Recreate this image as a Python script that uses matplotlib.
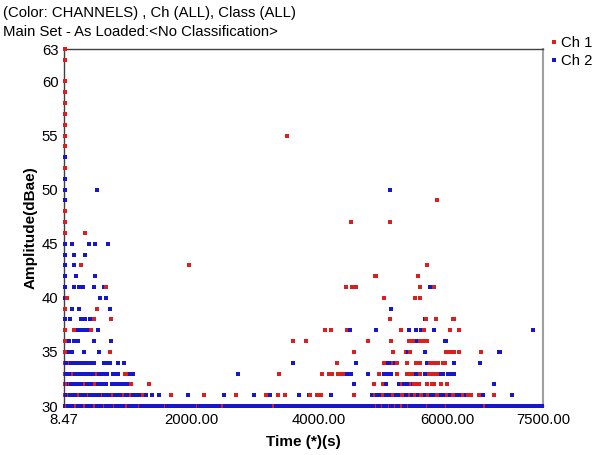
import numpy as np
import matplotlib.pyplot as plt
from matplotlib.lines import Line2D

plt.rcParams['font.family'] = ['Liberation Sans', 'DejaVu Sans']

title_lines = ["(Color: CHANNELS) , Ch (ALL), Class (ALL)",
               "Main Set - As Loaded:<No Classification>"]
channel_names = ["Ch 1", "Ch 2"]
channel_colors = ["#dc1e1e", "#1616cc"]
x_ticks = [8.47, 2000, 4000, 6000, 7500]
x_tick_labels = ["8.47", "2000.00", "4000.00", "6000.00", "7500.00"]
y_ticks = [30, 35, 40, 45, 50, 55, 60, 63]

# Ch 1 hits: amplitude level (dB) -> hit times (s)
ch1_levels = [63, 62, 60, 59, 58, 57, 56, 55, 54, 52, 49, 48, 47, 46, 43, 42, 41, 40,
              39, 38, 37, 36, 35, 34, 33, 32, 31, 30]
ch1_times = [
    [20], [20], [20], [20], [20], [20], [20], [20, 3490], [20], [20],
    [5845], [20], [20, 4490, 5100], [20, 330],
    [275, 1960, 5690],
    [4880, 5540],
    [670, 4420, 4520, 4580, 5570, 5790],
    [50, 5020, 5505, 5580],
    [20, 530],
    [485, 745, 5100, 5670, 5820, 6100],
    [30, 170, 430, 4090, 4180, 4440, 5280, 5640, 6040, 6190],
    [20, 3590, 3800, 4760, 5125, 5410, 5460, 5580, 5630, 5690],
    [20, 730, 4550, 5150, 5360, 5420, 5990, 6040, 6100, 6190, 6530],
    [20, 110, 4285, 5020, 5160, 5220, 5370, 5520, 5570, 5740, 5790, 5850, 5930, 5960],
    [20, 150, 520, 970, 3370, 4040, 4160, 4200, 4290, 4340, 4400, 4940, 5220, 5380,
     5430, 5460, 5580, 5720, 5780, 5850],
    [20, 60, 110, 330, 500, 1060, 1345, 4860, 4994, 5300, 5430, 5490, 5560, 5680,
     5760, 5800, 5907, 6006],
    [20, 80, 250, 400, 620, 780, 950, 1050, 1250, 1689, 2205, 2698, 3167, 3355, 3472,
     3863, 3973, 4030, 4551, 4870, 5000, 5150, 5300, 5420, 5500, 5600, 5700, 5850,
     6000, 6100, 6250, 6320, 6380, 6506, 6741],
    [50, 200, 330, 500, 650, 800, 1000, 1200, 1600, 2100, 2500, 3300, 4900, 5000,
     5100, 5200, 5300, 5400, 5700, 6000, 6600],
]

# Ch 2 hits: amplitude level (dB) -> hit times (s)
ch2_levels = [53, 51, 50, 49, 45, 44, 43, 42, 41, 40, 39, 38, 37, 36, 35, 34, 33, 32, 31, 30]
ch2_times = [
    [20], [20], [20, 530, 5100], [20],
    [20, 135, 400, 500, 690],
    [20, 170, 330],
    [20, 170],
    [20, 200, 500],
    [20, 170, 250, 300, 485, 640, 5735],
    [20, 565, 670],
    [140, 250, 735, 5125],
    [20, 95, 275, 330, 410, 5650],
    [235, 280, 330, 370, 400, 545, 4475, 4890, 5410, 5520, 5600, 5800, 7350],
    [80, 170, 220, 480, 740, 5530, 5975],
    [80, 140, 320, 560, 5390, 5650, 6820],
    [35, 65, 95, 125, 160, 190, 220, 250, 285, 315, 350, 380, 410, 485, 640, 680, 720,
     860, 940, 3592, 4578, 5070, 5130, 5190, 5680, 6115, 6520],
    [35, 70, 105, 140, 175, 210, 245, 280, 315, 350, 385, 420, 455, 490, 550, 600, 640,
     680, 780, 820, 860, 1040, 1080, 2730, 4440, 4490, 4770, 5020, 5070, 5130, 5520,
     5540, 5650, 5900, 5930, 6020, 6060, 6100],
    [40, 80, 120, 160, 200, 240, 280, 370, 410, 450, 540, 580, 620, 660, 760, 800, 840,
     880, 920, 960, 1000, 4550, 5050, 5255, 5290, 5330, 5370, 5410, 5460, 5900, 6741],
    [35, 70, 105, 140, 175, 210, 245, 280, 315, 350, 385, 420, 455, 490, 525, 560, 595,
     630, 665, 700, 735, 770, 805, 840, 875, 910, 985, 1020, 1090, 1130, 1170, 1210,
     1290, 1392, 1501, 1947, 2518, 2987, 3230, 3691, 3840, 4187, 4830, 4900, 4950, 5050,
     5100, 5200, 5250, 5350, 5450, 5550, 5650, 5750, 5800, 5900, 5950, 6050, 6150, 6200,
     6300, 6569, 7018],
    [20, 70, 120, 170, 220, 270, 320, 370, 420, 470, 520, 570, 620, 670, 720,
     770, 820, 870, 920, 970, 1020, 1070, 1120, 1170, 1220, 1270, 1320, 1370, 1420, 1470,
     1520, 1570, 1620, 1670, 1720, 1770, 1820, 1870, 1920, 1970, 2020, 2070, 2120, 2170,
     2220, 2270, 2320, 2370, 2420, 2470, 2520, 2570, 2620, 2670, 2720, 2770, 2820, 2870,
     2920, 2970, 3020, 3070, 3120, 3170, 3220, 3270, 3320, 3370, 3420, 3470, 3520, 3570,
     3620, 3670, 3720, 3770, 3820, 3870, 3920, 3970, 4020, 4070, 4120, 4170, 4220, 4270,
     4320, 4370, 4420, 4470, 4520, 4570, 4620, 4670, 4720, 4770, 4820, 4870, 4920, 4970,
     5020, 5070, 5120, 5170, 5220, 5270, 5320, 5370, 5420, 5470, 5520, 5570, 5620, 5670,
     5720, 5770, 5820, 5870, 5920, 5970, 6020, 6070, 6120, 6170, 6220, 6270, 6320, 6370,
     6420, 6470, 6520, 6570, 6620, 6670, 6720, 6770, 6820, 6870, 6920, 6970, 7020, 7070,
     7120, 7170, 7220, 7270, 7320, 7370, 7420, 7470, 7490],
]


def flatten(levels, times, ch):
    t, a, c = [], [], []
    for lev, ts in zip(levels, times):
        t += ts
        a += [lev] * len(ts)
        c += [ch] * len(ts)
    return t, a, c


t1, a1, c1 = flatten(ch1_levels, ch1_times, 0)
t2, a2, c2 = flatten(ch2_levels, ch2_times, 1)
t = np.array(t1 + t2, dtype=float)
a = np.array(a1 + a2, dtype=float)
c = np.array(c1 + c2)
# draw hits in time order so later hits sit on top of earlier ones
order = np.argsort(t, kind="stable")
colors = [channel_colors[k] for k in c[order]]

fig = plt.figure(figsize=(5.98, 4.55), dpi=100)
ax = fig.add_axes([64 / 598, 49 / 455, 479 / 598, 357 / 455])
ax.scatter(t[order], a[order], s=8.5, marker="s", c=colors, linewidths=0,
           clip_on=False, zorder=3)

ax.set_xlim(8.47, 7500)
ax.set_ylim(30, 63)
ax.set_xticks(x_ticks)
ax.set_xticklabels(x_tick_labels)
ax.set_yticks(y_ticks)
ax.tick_params(length=0, labelsize=10.7, colors="black")
ax.tick_params(axis="y", pad=4)
ax.tick_params(axis="x", pad=5)
ax.set_xlabel("Time (*)(s)", fontsize=11, fontweight="bold", labelpad=6)
ax.set_ylabel("Amplitude(dBae)", fontsize=11, fontweight="bold", labelpad=3)

for side in ["left", "top", "bottom"]:
    ax.spines[side].set_color("#404040")
    ax.spines[side].set_linewidth(1)
ax.spines["right"].set_color("#a0a0a0")
ax.spines["right"].set_linewidth(1.5)

fig.text(3 / 598, 1 - 13 / 455, title_lines[0], fontsize=10.7, va="center", ha="left")
fig.text(3 / 598, 1 - 32 / 455, title_lines[1], fontsize=10.7, va="center", ha="left")

handles = [Line2D([], [], marker="s", linestyle="", markersize=2.8,
                  markerfacecolor=col, markeredgewidth=0) for col in channel_colors]
fig.legend(handles, channel_names, loc="upper left",
           bbox_to_anchor=(550 / 598, 1 - 36 / 455), frameon=False,
           handlelength=0.5, handletextpad=0.25, borderpad=0, borderaxespad=0,
           labelspacing=0.25, fontsize=10.7)

fig.savefig("out.png", dpi=100)
